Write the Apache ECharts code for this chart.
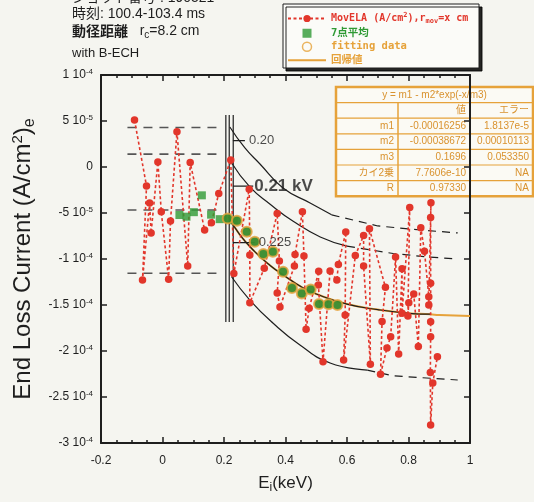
<!DOCTYPE html>
<html>
<head>
<meta charset="utf-8">
<script src="https://cdn.jsdelivr.net/npm/echarts@6/dist/echarts.min.js"></script>
<style>
html, body { margin: 0; padding: 0; background: #f5f5f0; }
#chart { width: 534px; height: 502px; }
</style>
</head>
<body>
<div id="chart"></div>
<script>
// y values are in units of 1e-5 A/cm^2
const movX = [-0.091, -0.052, -0.065, -0.042, -0.037, -0.015, -0.004, 0.020, 0.026, 0.047, 0.082, 0.090, 0.137, 0.159, 0.183, 0.222, 0.232,
    0.282, 0.284, 0.284, 0.331, 0.373, 0.380, 0.373, 0.382, 0.429, 0.431, 0.455, 0.460, 0.467, 0.477, 0.508, 0.507, 0.522, 0.545,
    0.567, 0.572, 0.596, 0.594, 0.589, 0.627, 0.654, 0.654, 0.676, 0.673, 0.725, 0.714, 0.709, 0.730, 0.742, 0.758, 0.768, 0.779,
    0.779, 0.804, 0.798, 0.801, 0.817, 0.832, 0.840, 0.852, 0.866, 0.866, 0.873, 0.872, 0.872, 0.872, 0.872, 0.871, 0.872, 0.879, 0.894]
const movY = [5.11, -2.07, -12.28, -3.91, -7.17, 0.54, -4.86, -12.21, -5.87, 3.84, -10.76, 0.49, -6.85, -6.05, -2.88, 0.76, -11.58,
    -2.42, -9.57, -14.75, -11.01, -5.05, -10.22, -13.70, -15.22, -10.76, -9.51, -4.86, -9.67, -17.64, -15.36, -11.34, -12.83, -21.16, -11.30,
    -12.28, -10.60, -7.07, -16.09, -20.98, -9.62, -7.45, -10.76, -21.43, -6.71, -13.08, -16.79, -22.53, -19.67, -18.45, -9.78, -20.33, -11.05,
    -15.90, -4.40, -16.20, -14.76, -13.80, -19.51, -6.60, -9.16, -14.10, -15.00, -3.88, -5.49, -12.64, -16.82, -18.45, -22.34, -28.04, -23.48, -20.62]

const avgX = [0.055, 0.078, 0.102, 0.128, 0.158, 0.186, 0.211, 0.232, 0.242, 0.274, 0.300, 0.328, 0.359, 0.392, 0.421, 0.453, 0.482, 0.509, 0.540, 0.569]
const avgY = [-5.22, -5.40, -4.91, -3.08, -5.18, -5.67, -5.62, -5.79, -5.84, -7.03, -8.12, -9.46, -9.21, -11.38, -13.15, -13.75, -13.32, -14.89, -14.92, -15.00]

const fitX = [0.212, 0.242, 0.274, 0.300, 0.328, 0.359, 0.392, 0.421, 0.453, 0.482, 0.509, 0.540, 0.569]
const fitY = [-5.60, -5.84, -7.03, -8.12, -9.46, -9.21, -11.38, -13.15, -13.75, -13.32, -14.89, -14.92, -15.00]

const regX = [0.215, 0.25, 0.30, 0.35, 0.40, 0.45, 0.50, 0.60, 0.70, 0.80, 0.87, 0.90, 1.00]
const regY = [-5.4, -7.3, -9.2, -10.7, -11.9, -13.0, -13.8, -14.9, -15.5, -15.9, -16.0, -16.1, -16.2]

// guide curves: solid part, then dashed continuation
const curveAX = [0.219, 0.268, 0.317, 0.392, 0.480, 0.550]
const curveAY = [4.35, 2.07, 0.33, -2.28, -3.91, -5.2]
const curveADashX = [0.550, 0.700, 0.840, 0.960]
const curveADashY = [-5.2, -6.41, -6.85, -7.17]
const curveBX = [0.225, 0.284, 0.349, 0.425, 0.513, 0.600]
const curveBY = [0.43, -2.17, -4.02, -5.9, -7.6, -8.6]
const curveBDashX = [0.600, 0.750, 0.870, 0.960]
const curveBDashY = [-8.6, -9.4, -9.8, -10.0]
const curveDX = [0.224, 0.284, 0.359, 0.447, 0.545, 0.666]
const curveDY = [-11.9, -14.46, -16.96, -19.35, -21.3, -22.07]
const curveDDashX = [0.666, 0.750, 0.960]
const curveDDashY = [-22.07, -22.7, -23.15]

const leftLevels = [4.3, 1.4, -4.67, -11.55]
const leftSpan = [-0.114, 0.187]
const vLinesX = [0.206, 0.217, 0.230]
const vLineSpan = [5.65, -16.85]

const annoY = [2.86, -2.07, -8.23]
const annoStart = 0.229
const annoEnd = [0.268, 0.295, 0.300]
const annoText = ['0.20', '0.21 kV', '0.225']

const yTickVals = [10, 5, 0, -5, -10, -15, -20, -25, -30]
const yTickMant = ['1 10', '5 10', '0', '-5 10', '-1 10', '-1.5 10', '-2 10', '-2.5 10', '-3 10']
const yTickExp = ['-4', '-5', '', '-5', '-4', '-4', '-4', '-4', '-4']

const tableTitle = 'y = m1 - m2*exp(-x/m3)'
const tableRows = [
    ['', '値', 'エラー'],
    ['m1', '-0.00016256', '1.8137e-5'],
    ['m2', '-0.00038672', '0.00010113'],
    ['m3', '0.1696', '0.053350'],
    ['カイ2乗', '7.7606e-10', 'NA'],
    ['R', '0.97330', 'NA']
]

const RED = '#e2362b'
const GREEN = '#2f9a35'
const ORANGE = '#e6a23a'
const INK = '#1e1e1e'
const SANS = '"Liberation Sans", Arial, sans-serif'
const JP = '"Liberation Sans", "Noto Sans CJK JP", sans-serif'
const MONO = '"DejaVu Sans Mono", "Noto Sans CJK JP", monospace'

const zip = (xs, ys) => xs.map((x, i) => [x, ys[i]])

const plainLine = (data, color, width, type, z) => ({
    type: 'line', data, symbol: 'none', silent: true, z: z || 2,
    itemStyle: { color },
    lineStyle: { color, width, type: type || 'solid' }
})

const chart = echarts.init(document.getElementById('chart'))

const series = []
leftLevels.forEach(v => series.push(plainLine([[leftSpan[0], v], [leftSpan[1], v]], '#555', 1.6, [9, 7])))
series.push(Object.assign(plainLine(zip(regX, regY), ORANGE, 2, 'solid', 2), { name: '回帰値', smooth: true }))
series.push(Object.assign(plainLine(zip(curveAX, curveAY), INK, 1.2), { smooth: true }))
series.push(plainLine(zip(curveADashX, curveADashY), INK, 1.2, [8, 6]))
series.push(Object.assign(plainLine(zip(curveBX, curveBY), INK, 1.2), { smooth: true }))
series.push(plainLine(zip(curveBDashX, curveBDashY), INK, 1.2, [8, 6]))
series.push(Object.assign(plainLine(zip(regX.slice(0, 11), regY.slice(0, 11)), INK, 1.2), { smooth: true }))
series.push(Object.assign(plainLine(zip(curveDX, curveDY), INK, 1.2), { smooth: true }))
series.push(plainLine(zip(curveDDashX, curveDDashY), INK, 1.2, [8, 6]))
vLinesX.forEach(x => series.push(plainLine([[x, vLineSpan[0]], [x, vLineSpan[1]]], INK, 1.2)))
annoY.forEach((y, i) => series.push(plainLine([[annoStart, y], [annoEnd[i], y]], INK, 1.2)))
series.push({
    type: 'scatter', symbolSize: 0, silent: true, z: 6,
    data: annoY.map((y, i) => ({
        value: [annoEnd[i], y],
        label: {
            show: true, position: 'right', distance: i === 1 ? 1 : 4, formatter: annoText[i], color: INK,
            fontFamily: SANS, fontSize: i === 1 ? 17 : 13, fontWeight: i === 1 ? 'bold' : 'normal'
        }
    }))
})
series.push({
    name: 'MovELA', type: 'line', data: zip(movX, movY), z: 4,
    symbol: 'circle', symbolSize: 7.5,
    itemStyle: { color: RED },
    lineStyle: { color: RED, width: 1.6, type: [3, 2.5] }
})
series.push({
    name: '7点平均', type: 'scatter', data: zip(avgX, avgY), z: 5,
    symbol: 'rect', symbolSize: 8, itemStyle: { color: GREEN }
})
series.push({
    name: 'fitting data', type: 'scatter', data: zip(fitX, fitY), z: 6,
    symbol: 'circle', symbolSize: 10,
    itemStyle: { color: '#3d8a2c', borderColor: ORANGE, borderWidth: 2 }
})

const yLabel = v => {
    const i = yTickVals.indexOf(Math.round(v))
    if (i < 0) return ''
    return yTickExp[i] ? '{m|' + yTickMant[i] + '}{e|' + yTickExp[i] + '}' : '{m|' + yTickMant[i] + '}'
}

const tickStyle = { show: true, inside: true, length: 6, lineStyle: { color: INK, width: 1.5 } }
const axisBase = {
    type: 'value',
    axisLine: { show: true, onZero: false, lineStyle: { color: INK, width: 2 } },
    splitLine: { show: false }
}

// stats table as graphic elements
const cols = [336, 398, 470, 533]
const rowH = 15.6
const tTop = 87
const tableEls = []
tableEls.push({ type: 'rect', shape: { x: cols[0], y: tTop, width: cols[3] - cols[0], height: rowH * 7 },
    style: { fill: '#fbfaf4', stroke: ORANGE, lineWidth: 2.5 } })
for (let r = 1; r < 7; r++) {
    tableEls.push({ type: 'line', shape: { x1: cols[0], y1: tTop + r * rowH, x2: cols[3], y2: tTop + r * rowH },
        style: { stroke: ORANGE, lineWidth: 1.2 } })
}
;[1, 2].forEach(c => tableEls.push({ type: 'line', shape: { x1: cols[c], y1: tTop + rowH, x2: cols[c], y2: tTop + rowH * 7 },
    style: { stroke: ORANGE, lineWidth: 1.5 } }))
tableEls.push({ type: 'text', x: (cols[0] + cols[3]) / 2, y: tTop + rowH / 2,
    style: { text: tableTitle, fill: '#d9922e', font: '10px ' + SANS, align: 'center', verticalAlign: 'middle' } })
tableRows.forEach((row, r) => row.forEach((cell, c) => tableEls.push({
    type: 'text', x: cols[c + 1] - 4, y: tTop + rowH * (r + 1.5),
    style: { text: cell, fill: '#d9922e', font: '10px ' + JP, align: 'right', verticalAlign: 'middle' }
})))

const headerText = [
    { type: 'text', x: 72, y: -2, style: { text: 'ショット番号 : 190521', fill: INK, font: '14px ' + JP, verticalAlign: 'middle' } },
    { type: 'text', x: 72, y: 14, style: { text: '時刻: 100.4-103.4 ms', fill: INK, font: '14px ' + JP, verticalAlign: 'middle' } },
    { type: 'text', x: 72, y: 31, style: {
        text: '{j|動径距離}{n|   r}{s|c}{n|=8.2 cm}', verticalAlign: 'middle',
        rich: { j: { font: 'bold 14px "Noto Sans CJK JP"', fill: INK }, n: { font: '14px ' + SANS, fill: INK },
            s: { font: '10px ' + SANS, fill: INK, padding: [8, 0, 0, 0] } } } },
    { type: 'text', x: 72, y: 53, style: { text: 'with B-ECH', fill: INK, font: '13px ' + SANS, verticalAlign: 'middle' } }
]

const option = {
    backgroundColor: '#f5f5f0',
    animation: false,
    grid: { left: 101, right: 64, top: 75, bottom: 59, outerBoundsMode: 'none', containLabel: false },
    legend: {
        left: 282, top: 7, orient: 'vertical', itemGap: 3, itemWidth: 38, itemHeight: 9,
        selectedMode: false,
        textStyle: {
            fontFamily: MONO, fontSize: 10, fontWeight: 'bold',
            rich: {
                r: { color: RED, fontFamily: MONO, fontSize: 10, fontWeight: 'bold' },
                rs: { color: RED, fontFamily: MONO, fontSize: 7, fontWeight: 'bold', padding: [0, 0, 6, 0] },
                rb: { color: RED, fontFamily: MONO, fontSize: 7, fontWeight: 'bold', padding: [6, 0, 0, 0] },
                g: { color: GREEN, fontFamily: MONO, fontSize: 10.5, fontWeight: 'bold' },
                o: { color: ORANGE, fontFamily: MONO, fontSize: 10.5, fontWeight: 'bold' }
            }
        },
        formatter: name => {
            if (name === 'MovELA') return '{r|MovELA (A/cm}{rs|2}{r|),r}{rb|mov}{r|=x cm}'
            if (name === '7点平均') return '{g|7点平均}'
            return '{o|' + name + '}'
        },
        data: [
            { name: 'MovELA' },
            { name: '7点平均', icon: 'path://M0,0L10,0L10,10L0,10Z', itemStyle: { color: GREEN } },
            { name: 'fitting data', icon: 'circle', itemStyle: { color: 'rgba(0,0,0,0)', borderColor: ORANGE, borderWidth: 1.5 } },
            { name: '回帰値', itemStyle: { color: 'rgba(0,0,0,0)', borderWidth: 0 } }
        ]
    },
    xAxis: [
        Object.assign({}, axisBase, {
            min: -0.2, max: 1, interval: 0.2, position: 'bottom',
            axisTick: tickStyle,
            minorTick: { show: true, splitNumber: 4, length: 3, lineStyle: { color: INK, width: 1.5 } },
            axisLabel: { margin: 12, color: INK, fontFamily: SANS, fontSize: 12, formatter: v => String(Math.round(v * 10) / 10) },
            name: '{n|E}{s|i}{n|(keV)}', nameLocation: 'middle', nameGap: 30,
            nameTextStyle: { rich: { n: { fontFamily: SANS, fontSize: 17, color: INK }, s: { fontFamily: SANS, fontSize: 12, color: INK, padding: [9, 0, 0, 0] } } }
        }),
        Object.assign({}, axisBase, {
            min: -0.2, max: 1, interval: 0.2, position: 'top',
            axisTick: tickStyle,
            minorTick: { show: true, splitNumber: 4, length: 3, lineStyle: { color: INK, width: 1.5 } },
            axisLabel: { show: false }
        })
    ],
    yAxis: [
        Object.assign({}, axisBase, {
            min: -30, max: 10, interval: 5, position: 'left',
            axisTick: tickStyle,
            axisLabel: {
                margin: 8, formatter: yLabel,
                rich: {
                    m: { fontFamily: SANS, fontSize: 12, color: INK },
                    e: { fontFamily: SANS, fontSize: 8, color: INK, padding: [0, 0, 7, 0] }
                }
            },
            name: '{n|End Loss Current (A/cm}{p|2}{n|)}{b|e}', nameLocation: 'middle', nameGap: 63, nameRotate: 90,
            nameTextStyle: { rich: {
                n: { fontFamily: SANS, fontSize: 24, color: INK },
                p: { fontFamily: SANS, fontSize: 15, color: INK, padding: [0, 0, 12, 0] },
                b: { fontFamily: SANS, fontSize: 16, color: INK, padding: [12, 0, 0, 0] }
            } }
        }),
        Object.assign({}, axisBase, {
            min: -30, max: 10, interval: 5, position: 'right',
            axisTick: tickStyle,
            axisLabel: { show: false }
        })
    ],
    series,
    graphic: [
        { type: 'rect', z: 3, shape: { x: 283, y: 4, width: 196, height: 64 },
          style: { fill: '#fbfbf8', stroke: INK, lineWidth: 1, shadowColor: 'rgba(0,0,0,0.85)', shadowOffsetX: 3, shadowOffsetY: 3 } },
        { type: 'group', z: 3, children: tableEls },
        { type: 'group', children: headerText }
    ]
}

chart.setOption(option)
</script>
</body>
</html>
